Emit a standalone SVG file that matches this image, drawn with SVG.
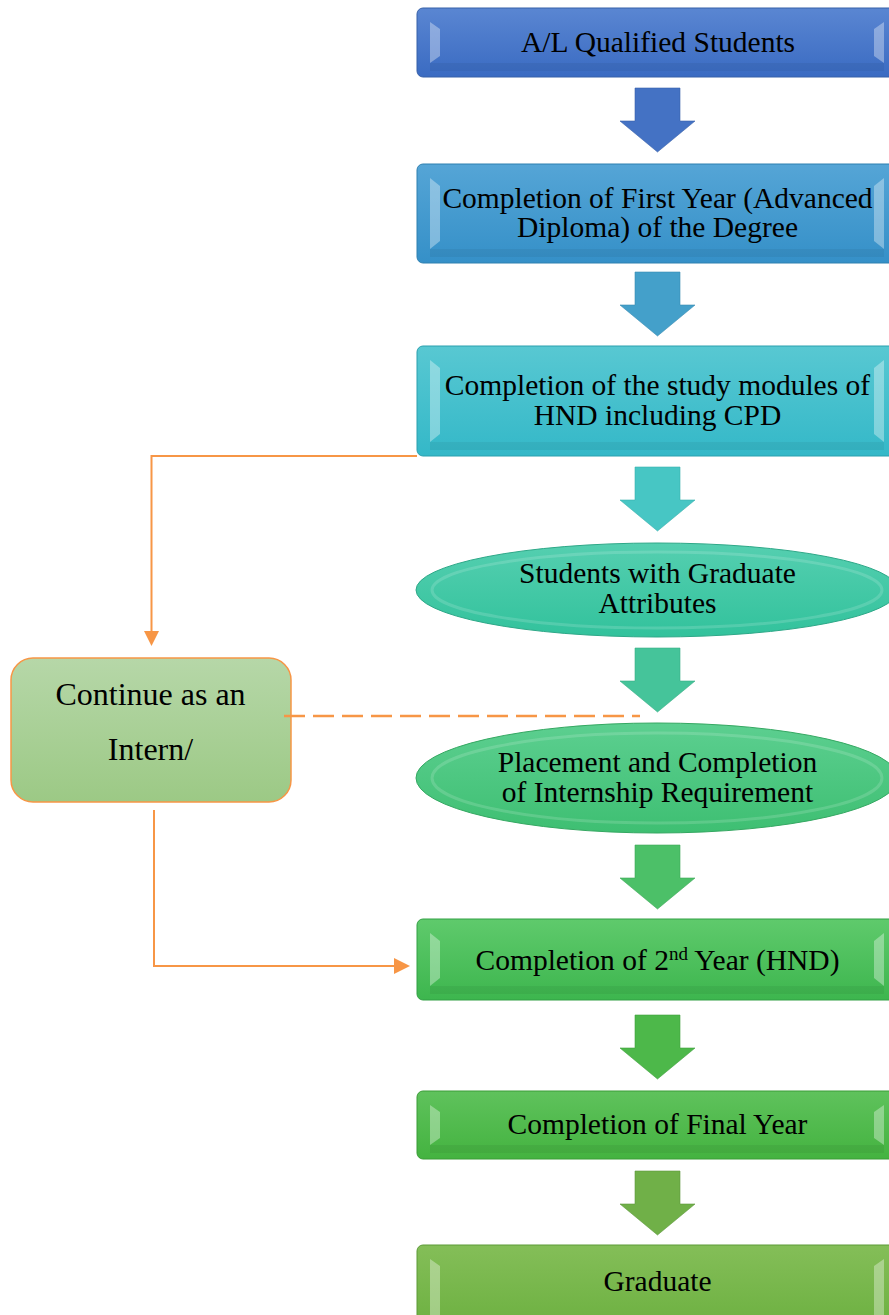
<svg xmlns="http://www.w3.org/2000/svg" xmlns:xlink="http://www.w3.org/1999/xlink" width="889" height="1315" viewBox="0 0 889 1315">
<style>
.t{font-family:"Liberation Serif","Times New Roman",serif;font-size:29.5px;fill:#000;text-anchor:middle}
.ti{font-family:"Liberation Serif","Times New Roman",serif;font-size:32px;fill:#000;text-anchor:middle}
.bev{fill:#ffffff;fill-opacity:0.35}
.bevd{fill:#000000;fill-opacity:0.05}
.con{fill:none;stroke:#f79646;stroke-width:2}
.dash{fill:none;stroke:#f79646;stroke-width:2.6;stroke-dasharray:21 8}
.ah{fill:#f79646}
.arr{stroke-width:1;stroke-opacity:0.6}
.hl{fill:none;stroke:#ffffff;stroke-opacity:0.15;stroke-width:3}
</style>
<defs>
<linearGradient id="g1" x1="0" y1="0" x2="0" y2="1"><stop offset="0" stop-color="#5a86d2"/><stop offset="1" stop-color="#3a6bc2"/></linearGradient>
<linearGradient id="g2" x1="0" y1="0" x2="0" y2="1"><stop offset="0" stop-color="#55a5d6"/><stop offset="1" stop-color="#3590c8"/></linearGradient>
<linearGradient id="g3" x1="0" y1="0" x2="0" y2="1"><stop offset="0" stop-color="#58c8d2"/><stop offset="1" stop-color="#34b8c8"/></linearGradient>
<linearGradient id="g4" x1="0" y1="0" x2="0" y2="1"><stop offset="0" stop-color="#55cfb0"/><stop offset="1" stop-color="#32c29c"/></linearGradient>
<linearGradient id="g5" x1="0" y1="0" x2="0" y2="1"><stop offset="0" stop-color="#5ccf90"/><stop offset="1" stop-color="#3ebf72"/></linearGradient>
<linearGradient id="g6" x1="0" y1="0" x2="0" y2="1"><stop offset="0" stop-color="#5fca6c"/><stop offset="1" stop-color="#3db64e"/></linearGradient>
<linearGradient id="g7" x1="0" y1="0" x2="0" y2="1"><stop offset="0" stop-color="#5fc25c"/><stop offset="1" stop-color="#44b340"/></linearGradient>
<linearGradient id="g8" x1="0" y1="0" x2="0" y2="1"><stop offset="0" stop-color="#84be58"/><stop offset="1" stop-color="#6cb040"/></linearGradient>
<linearGradient id="gi" x1="0" y1="0" x2="0" y2="1"><stop offset="0" stop-color="#b6d7a8"/><stop offset="1" stop-color="#9cc985"/></linearGradient>
<path id="arr" d="M-22,0 H23 V33 H38 L0.5,64 L-37,33 H-22 Z"/>
</defs>

<g id="arrows">
<use xlink:href="#arr" href="#arr" x="657" y="88" fill="#4472c4" stroke="#3a62aa" class="arr"/>
<use xlink:href="#arr" href="#arr" x="657" y="272" fill="#44a0ca" stroke="#3a8cb2" class="arr"/>
<use xlink:href="#arr" href="#arr" x="657" y="467" fill="#47c6c4" stroke="#3ab0ae" class="arr"/>
<use xlink:href="#arr" href="#arr" x="657" y="648" fill="#45c49a" stroke="#38ae86" class="arr"/>
<use xlink:href="#arr" href="#arr" x="657" y="845" fill="#4cc068" stroke="#3ea858" class="arr"/>
<use xlink:href="#arr" href="#arr" x="657" y="1015" fill="#4db84a" stroke="#40a03e" class="arr"/>
<use xlink:href="#arr" href="#arr" x="657" y="1171" fill="#70b048" stroke="#5e983c" class="arr"/>
</g>

<g id="n1">
<rect x="417" y="8" width="480" height="69" rx="6" fill="url(#g1)" stroke="#3760a8" stroke-width="1"/>
<polygon class="bev" points="430,22 440,29 440,56 430,63"/>
<polygon class="bev" points="884,22 874,29 874,56 884,63"/>
<rect class="bevd" x="430" y="63" width="454" height="8"/>
<text class="t" x="658" y="52">A/L Qualified Students</text>
</g>

<g id="n2">
<rect x="417" y="164" width="480" height="99" rx="6" fill="url(#g2)" stroke="#2f80b0" stroke-width="1"/>
<polygon class="bev" points="430,178 440,186 440,241 430,249"/>
<polygon class="bev" points="884,178 874,186 874,241 884,249"/>
<rect class="bevd" x="430" y="249" width="454" height="8"/>
<text class="t" x="657.5" y="208">Completion of First Year (Advanced</text>
<text class="t" x="657.5" y="237">Diploma) of the Degree</text>
</g>

<g id="n3">
<rect x="417" y="346" width="480" height="110" rx="6" fill="url(#g3)" stroke="#2aa0ae" stroke-width="1"/>
<polygon class="bev" points="430,360 440,368 440,434 430,442"/>
<polygon class="bev" points="884,360 874,368 874,434 884,442"/>
<rect class="bevd" x="430" y="442" width="454" height="8"/>
<text class="t" x="657.5" y="395">Completion of the study modules of</text>
<text class="t" x="657.5" y="425">HND including CPD</text>
</g>

<g id="n4">
<ellipse cx="657" cy="590" rx="241" ry="47" fill="url(#g4)" stroke="#2ea888" stroke-width="1"/>
<ellipse class="hl" cx="657" cy="590" rx="225" ry="38"/>
<text class="t" x="657.5" y="583">Students with Graduate</text>
<text class="t" x="657.5" y="613">Attributes</text>
</g>

<g id="n5">
<ellipse cx="657" cy="778" rx="241" ry="55" fill="url(#g5)" stroke="#35a862" stroke-width="1"/>
<ellipse class="hl" cx="657" cy="778" rx="225" ry="45"/>
<text class="t" x="657.5" y="772">Placement and Completion</text>
<text class="t" x="657.5" y="802">of Internship Requirement</text>
</g>

<g id="n6">
<rect x="417" y="919" width="480" height="81" rx="6" fill="url(#g6)" stroke="#33a044" stroke-width="1"/>
<polygon class="bev" points="430,933 440,941 440,978 430,986"/>
<polygon class="bev" points="884,933 874,941 874,978 884,986"/>
<rect class="bevd" x="430" y="986" width="454" height="8"/>
<text class="t" x="657.5" y="970">Completion of 2<tspan font-size="19" dy="-10">nd</tspan><tspan dy="10"> Year (HND)</tspan></text>
</g>

<g id="n7">
<rect x="417" y="1091" width="480" height="68" rx="6" fill="url(#g7)" stroke="#3a9c36" stroke-width="1"/>
<polygon class="bev" points="430,1105 440,1112 440,1138 430,1145"/>
<polygon class="bev" points="884,1105 874,1112 874,1138 884,1145"/>
<rect class="bevd" x="430" y="1145" width="454" height="8"/>
<text class="t" x="657.5" y="1134">Completion of Final Year</text>
</g>

<g id="n8">
<rect x="417" y="1245" width="480" height="85" rx="6" fill="url(#g8)" stroke="#5c9a36" stroke-width="1"/>
<polygon class="bev" points="430,1259 440,1266 440,1320 430,1327"/>
<polygon class="bev" points="884,1259 874,1266 874,1320 884,1327"/>
<text class="t" x="657.5" y="1291">Graduate</text>
</g>

<g id="n9">
<rect x="11" y="658" width="280" height="144" rx="22" fill="url(#gi)" stroke="#f79646" stroke-width="1.5"/>
<text class="ti" x="150.5" y="705">Continue as an</text>
<text class="ti" x="150.5" y="760">Intern/</text>
</g>

<g id="connectors">
<path class="con" d="M417,456 H151.5 V632"/>
<polygon class="ah" points="144,631 159,631 151.5,646"/>
<path class="dash" d="M284,716 H640"/>
<path class="con" d="M154,810 V966 H395"/>
<polygon class="ah" points="394,958 394,974 410,966"/>
</g>
</svg>
